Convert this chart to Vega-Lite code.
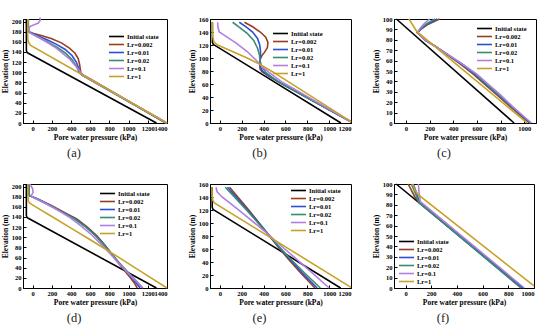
{
"$schema": "https://vega.github.io/schema/vega-lite/v6.json",
"padding": {"left": 0, "top": 13, "right": 5, "bottom": 5},
"config": {
 "font": "Liberation Serif",
 "view": {"stroke": "#000", "strokeWidth": 1},
 "axis": {"labelFont": "Liberation Serif", "labelFontWeight": "bold", "labelFontSize": 6.5, "labelColor": "#000", "labelOverlap": false, "format": "d", "titleFont": "Liberation Serif", "titleFontWeight": "bold", "titleFontSize": 7.5, "titleColor": "#000", "grid": false, "tickSize": -3, "tickColor": "#000", "domainColor": "#000", "labelPadding": 5, "titlePadding": 2},
 "legend": {"orient": "none", "title": null, "symbolType": "M-3,0H3", "symbolSize": 25, "symbolStrokeWidth": 2, "labelFont": "Liberation Serif", "labelFontSize": 6.5, "labelFontWeight": "bold", "labelColor": "#000", "rowPadding": 1, "labelOffset": 7, "padding": 0},
 "line": {"strokeWidth": 1.6, "clip": true},
 "title": {"font": "Liberation Serif", "fontSize": 12.5, "fontWeight": "normal", "color": "#222", "orient": "bottom", "offset": 6, "frame": "group", "dx": -21}
},
"datasets": {
 "a": [
  {"s":"i","p":-65,"e":205},{"s":"i","p":-65,"e":143},{"s":"i","p":-58,"e":139},{"s":"i","p":-45,"e":137.5},{"s":"i","p":1290,"e":0},
  {"s":"0.002","p":-45,"e":205},{"s":"0.002","p":-48,"e":190},{"s":"0.002","p":-40,"e":180},{"s":"0.002","p":0,"e":177},{"s":"0.002","p":100,"e":172},{"s":"0.002","p":200,"e":166},{"s":"0.002","p":300,"e":158},{"s":"0.002","p":380,"e":148},{"s":"0.002","p":440,"e":138},{"s":"0.002","p":475,"e":127},{"s":"0.002","p":490,"e":115},{"s":"0.002","p":497,"e":105},{"s":"0.002","p":505,"e":98},{"s":"0.002","p":540,"e":93},{"s":"0.002","p":620,"e":85},{"s":"0.002","p":1388,"e":0},
  {"s":"0.01","p":-45,"e":205},{"s":"0.01","p":-45,"e":185},{"s":"0.01","p":-35,"e":180},{"s":"0.01","p":50,"e":172},{"s":"0.01","p":150,"e":164},{"s":"0.01","p":250,"e":155},{"s":"0.01","p":340,"e":145},{"s":"0.01","p":410,"e":133},{"s":"0.01","p":455,"e":120},{"s":"0.01","p":480,"e":108},{"s":"0.01","p":495,"e":99},{"s":"0.01","p":520,"e":94},{"s":"0.01","p":1392,"e":0},
  {"s":"0.02","p":-45,"e":205},{"s":"0.02","p":-45,"e":185},{"s":"0.02","p":-35,"e":179},{"s":"0.02","p":50,"e":170},{"s":"0.02","p":150,"e":160},{"s":"0.02","p":250,"e":150},{"s":"0.02","p":340,"e":138},{"s":"0.02","p":410,"e":125},{"s":"0.02","p":455,"e":112},{"s":"0.02","p":485,"e":100},{"s":"0.02","p":510,"e":95},{"s":"0.02","p":1395,"e":0},
  {"s":"0.1","p":75,"e":208},{"s":"0.1","p":80,"e":203},{"s":"0.1","p":60,"e":197},{"s":"0.1","p":-30,"e":190},{"s":"0.1","p":-40,"e":183},{"s":"0.1","p":-20,"e":177},{"s":"0.1","p":100,"e":165},{"s":"0.1","p":250,"e":147},{"s":"0.1","p":380,"e":127},{"s":"0.1","p":460,"e":110},{"s":"0.1","p":505,"e":99},{"s":"0.1","p":525,"e":94},{"s":"0.1","p":1400,"e":0},
  {"s":"1","p":-50,"e":205},{"s":"1","p":-52,"e":185},{"s":"1","p":-50,"e":165},{"s":"1","p":-40,"e":158},{"s":"1","p":-20,"e":153},{"s":"1","p":1400,"e":0}
 ],
 "b": [
  {"s":"i","p":-68,"e":155},{"s":"i","p":-68,"e":124},{"s":"i","p":-60,"e":121},{"s":"i","p":-45,"e":119.5},{"s":"i","p":1108,"e":0},
  {"s":"0.002","p":225,"e":155},{"s":"0.002","p":300,"e":148},{"s":"0.002","p":370,"e":140},{"s":"0.002","p":420,"e":132},{"s":"0.002","p":440,"e":124},{"s":"0.002","p":435,"e":116},{"s":"0.002","p":410,"e":109},{"s":"0.002","p":385,"e":104},{"s":"0.002","p":370,"e":98},{"s":"0.002","p":365,"e":90},{"s":"0.002","p":368,"e":83},{"s":"0.002","p":385,"e":79},{"s":"0.002","p":450,"e":72},{"s":"0.002","p":560,"e":61},{"s":"0.002","p":1200,"e":2},
  {"s":"0.01","p":178,"e":155},{"s":"0.01","p":240,"e":148},{"s":"0.01","p":300,"e":140},{"s":"0.01","p":345,"e":130},{"s":"0.01","p":365,"e":120},{"s":"0.01","p":372,"e":110},{"s":"0.01","p":370,"e":100},{"s":"0.01","p":365,"e":93},{"s":"0.01","p":370,"e":86},{"s":"0.01","p":395,"e":79},{"s":"0.01","p":460,"e":71},{"s":"0.01","p":560,"e":61},{"s":"0.01","p":1200,"e":2},
  {"s":"0.02","p":117,"e":155},{"s":"0.02","p":180,"e":147},{"s":"0.02","p":250,"e":138},{"s":"0.02","p":310,"e":127},{"s":"0.02","p":345,"e":115},{"s":"0.02","p":362,"e":105},{"s":"0.02","p":368,"e":96},{"s":"0.02","p":380,"e":88},{"s":"0.02","p":420,"e":78},{"s":"0.02","p":480,"e":70},{"s":"0.02","p":560,"e":61},{"s":"0.02","p":1200,"e":2},
  {"s":"0.1","p":-20,"e":155},{"s":"0.1","p":-18,"e":148},{"s":"0.1","p":-5,"e":140},{"s":"0.1","p":60,"e":133},{"s":"0.1","p":150,"e":123},{"s":"0.1","p":250,"e":110},{"s":"0.1","p":330,"e":97},{"s":"0.1","p":380,"e":88},{"s":"0.1","p":450,"e":78},{"s":"0.1","p":560,"e":64},{"s":"0.1","p":1200,"e":2},
  {"s":"1","p":-70,"e":155},{"s":"1","p":-68,"e":135},{"s":"1","p":-55,"e":125},{"s":"1","p":-20,"e":120},{"s":"1","p":100,"e":111},{"s":"1","p":250,"e":100},{"s":"1","p":380,"e":89},{"s":"1","p":500,"e":77},{"s":"1","p":1200,"e":2}
 ],
 "c": [
  {"s":"i","p":-80,"e":100},{"s":"i","p":915,"e":0},
  {"s":"0.002","p":285,"e":100},{"s":"0.002","p":190,"e":95},{"s":"0.002","p":125,"e":90},{"s":"0.002","p":95,"e":87},{"s":"0.002","p":160,"e":80},{"s":"0.002","p":260,"e":73},{"s":"0.002","p":370,"e":64},{"s":"0.002","p":470,"e":56},{"s":"0.002","p":570,"e":47},{"s":"0.002","p":680,"e":36},{"s":"0.002","p":780,"e":26},{"s":"0.002","p":880,"e":16},{"s":"0.002","p":980,"e":6},{"s":"0.002","p":1045,"e":0},
  {"s":"0.01","p":265,"e":100},{"s":"0.01","p":180,"e":95},{"s":"0.01","p":125,"e":90},{"s":"0.01","p":100,"e":87},{"s":"0.01","p":160,"e":80},{"s":"0.01","p":260,"e":73},{"s":"0.01","p":375,"e":64},{"s":"0.01","p":480,"e":56},{"s":"0.01","p":580,"e":47},{"s":"0.01","p":690,"e":36},{"s":"0.01","p":790,"e":26},{"s":"0.01","p":890,"e":16},{"s":"0.01","p":990,"e":6},{"s":"0.01","p":1050,"e":0},
  {"s":"0.02","p":245,"e":100},{"s":"0.02","p":170,"e":95},{"s":"0.02","p":120,"e":90},{"s":"0.02","p":100,"e":87},{"s":"0.02","p":160,"e":80},{"s":"0.02","p":260,"e":73},{"s":"0.02","p":378,"e":64},{"s":"0.02","p":485,"e":56},{"s":"0.02","p":588,"e":47},{"s":"0.02","p":695,"e":36},{"s":"0.02","p":795,"e":26},{"s":"0.02","p":895,"e":16},{"s":"0.02","p":995,"e":6},{"s":"0.02","p":1055,"e":0},
  {"s":"0.1","p":200,"e":100},{"s":"0.1","p":150,"e":95},{"s":"0.1","p":120,"e":91},{"s":"0.1","p":100,"e":87},{"s":"0.1","p":160,"e":80},{"s":"0.1","p":260,"e":73},{"s":"0.1","p":380,"e":64},{"s":"0.1","p":500,"e":55},{"s":"0.1","p":600,"e":47},{"s":"0.1","p":700,"e":37},{"s":"0.1","p":800,"e":27},{"s":"0.1","p":900,"e":16},{"s":"0.1","p":1000,"e":6},{"s":"0.1","p":1062,"e":0},
  {"s":"1","p":25,"e":100},{"s":"1","p":60,"e":94},{"s":"1","p":92,"e":88},{"s":"1","p":1025,"e":0}
 ],
 "d": [
  {"s":"i","p":-65,"e":205},{"s":"i","p":-65,"e":143},{"s":"i","p":-58,"e":139},{"s":"i","p":-45,"e":137.5},{"s":"i","p":1290,"e":0},
  {"s":"0.002","p":-40,"e":205},{"s":"0.002","p":-40,"e":185},{"s":"0.002","p":-30,"e":182},{"s":"0.002","p":60,"e":175},{"s":"0.002","p":200,"e":162},{"s":"0.002","p":350,"e":147},{"s":"0.002","p":460,"e":136},{"s":"0.002","p":570,"e":120},{"s":"0.002","p":670,"e":103},{"s":"0.002","p":750,"e":85},{"s":"0.002","p":830,"e":66},{"s":"0.002","p":890,"e":50},{"s":"0.002","p":950,"e":36},{"s":"0.002","p":1010,"e":22},{"s":"0.002","p":1060,"e":10},{"s":"0.002","p":1090,"e":0},
  {"s":"0.01","p":-40,"e":205},{"s":"0.01","p":-40,"e":185},{"s":"0.01","p":-30,"e":182},{"s":"0.01","p":55,"e":175},{"s":"0.01","p":190,"e":162},{"s":"0.01","p":335,"e":147},{"s":"0.01","p":445,"e":136},{"s":"0.01","p":560,"e":120},{"s":"0.01","p":660,"e":103},{"s":"0.01","p":745,"e":85},{"s":"0.01","p":830,"e":66},{"s":"0.01","p":895,"e":50},{"s":"0.01","p":960,"e":36},{"s":"0.01","p":1025,"e":22},{"s":"0.01","p":1080,"e":10},{"s":"0.01","p":1120,"e":0},
  {"s":"0.02","p":-40,"e":205},{"s":"0.02","p":-40,"e":185},{"s":"0.02","p":-30,"e":182},{"s":"0.02","p":50,"e":175},{"s":"0.02","p":185,"e":162},{"s":"0.02","p":330,"e":147},{"s":"0.02","p":440,"e":136},{"s":"0.02","p":555,"e":120},{"s":"0.02","p":655,"e":103},{"s":"0.02","p":742,"e":85},{"s":"0.02","p":830,"e":66},{"s":"0.02","p":900,"e":50},{"s":"0.02","p":970,"e":36},{"s":"0.02","p":1040,"e":22},{"s":"0.02","p":1100,"e":10},{"s":"0.02","p":1145,"e":0},
  {"s":"0.1","p":-30,"e":205},{"s":"0.1","p":0,"e":196},{"s":"0.1","p":5,"e":188},{"s":"0.1","p":-15,"e":182},{"s":"0.1","p":0,"e":179},{"s":"0.1","p":120,"e":168},{"s":"0.1","p":250,"e":155},{"s":"0.1","p":380,"e":140},{"s":"0.1","p":500,"e":123},{"s":"0.1","p":620,"e":104},{"s":"0.1","p":720,"e":85},{"s":"0.1","p":820,"e":65},{"s":"0.1","p":900,"e":48},{"s":"0.1","p":980,"e":32},{"s":"0.1","p":1060,"e":17},{"s":"0.1","p":1150,"e":0},
  {"s":"1","p":-50,"e":205},{"s":"1","p":-50,"e":185},{"s":"1","p":-45,"e":172},{"s":"1","p":-30,"e":167},{"s":"1","p":50,"e":158},{"s":"1","p":200,"e":141},{"s":"1","p":400,"e":118},{"s":"1","p":600,"e":95},{"s":"1","p":800,"e":72},{"s":"1","p":1000,"e":48},{"s":"1","p":1200,"e":24},{"s":"1","p":1400,"e":0}
 ],
 "e": [
  {"s":"i","p":-70,"e":155},{"s":"i","p":-70,"e":124},{"s":"i","p":-62,"e":121},{"s":"i","p":-48,"e":119.5},{"s":"i","p":1105,"e":0},
  {"s":"0.002","p":89,"e":155},{"s":"0.002","p":180,"e":137},{"s":"0.002","p":270,"e":119},{"s":"0.002","p":360,"e":100},{"s":"0.002","p":441,"e":83},{"s":"0.002","p":530,"e":64},{"s":"0.002","p":624,"e":45},{"s":"0.002","p":740,"e":23},{"s":"0.002","p":870,"e":0},
  {"s":"0.01","p":70,"e":155},{"s":"0.01","p":165,"e":137},{"s":"0.01","p":260,"e":119},{"s":"0.01","p":355,"e":100},{"s":"0.01","p":440,"e":83},{"s":"0.01","p":535,"e":64},{"s":"0.01","p":635,"e":45},{"s":"0.01","p":755,"e":23},{"s":"0.01","p":890,"e":0},
  {"s":"0.02","p":50,"e":155},{"s":"0.02","p":150,"e":137},{"s":"0.02","p":250,"e":119},{"s":"0.02","p":350,"e":100},{"s":"0.02","p":440,"e":83},{"s":"0.02","p":540,"e":64},{"s":"0.02","p":645,"e":45},{"s":"0.02","p":775,"e":23},{"s":"0.02","p":920,"e":0},
  {"s":"0.1","p":-35,"e":155},{"s":"0.1","p":-25,"e":148},{"s":"0.1","p":20,"e":140},{"s":"0.1","p":120,"e":127},{"s":"0.1","p":230,"e":112},{"s":"0.1","p":340,"e":97},{"s":"0.1","p":440,"e":83},{"s":"0.1","p":560,"e":65},{"s":"0.1","p":690,"e":46},{"s":"0.1","p":840,"e":24},{"s":"0.1","p":1000,"e":0},
  {"s":"1","p":-72,"e":155},{"s":"1","p":-70,"e":140},{"s":"1","p":-62,"e":134},{"s":"1","p":-50,"e":131},{"s":"1","p":1200,"e":1}
 ],
 "f": [
  {"s":"i","p":-73,"e":100},{"s":"i","p":914,"e":0},
  {"s":"0.002","p":20,"e":100},{"s":"0.002","p":45,"e":94},{"s":"0.002","p":70,"e":88},{"s":"0.002","p":95,"e":84},{"s":"0.002","p":900,"e":0},
  {"s":"0.01","p":60,"e":100},{"s":"0.01","p":90,"e":90},{"s":"0.01","p":108,"e":82},{"s":"0.01","p":912,"e":0},
  {"s":"0.02","p":45,"e":100},{"s":"0.02","p":80,"e":90},{"s":"0.02","p":105,"e":82},{"s":"0.02","p":900,"e":0},
  {"s":"0.1","p":100,"e":100},{"s":"0.1","p":105,"e":92},{"s":"0.1","p":115,"e":83},{"s":"0.1","p":925,"e":0},
  {"s":"1","p":55,"e":100},{"s":"1","p":75,"e":94},{"s":"1","p":96,"e":90},{"s":"1","p":1000,"e":2}
 ]
},
"resolve": {"scale": {"color": "independent"}, "legend": {"color": "independent"}},
"bounds": "flush",
"columns": 3,
"spacing": {"row": 61, "column": 43},
"concat": [
  {"width": 144, "height": 104, "title": {"text": "(a)"}, "data": {"name": "a"}, "mark": "line",
   "encoding": {
    "x": {"field": "p", "type": "quantitative", "scale": {"domain": [-100, 1400], "nice": false, "zero": false}, "axis": {"values": [0,200,400,600,800,1000,1200,1400], "title": "Pore water pressure (kPa)"}},
    "y": {"field": "e", "type": "quantitative", "scale": {"domain": [0, 205], "nice": false}, "axis": {"values": [0,20,40,60,80,100,120,140,160,180,200], "title": "Elevation (m)"}},
    "color": {"field": "s", "type": "nominal", "scale": {"domain": ["i","0.002","0.01","0.02","0.1","1"], "range": ["#000000","#9c3d1e","#2b4fd8","#3a8c6e","#b07fe0","#c8a228"]}, "legend": {"legendX": 90, "legendY": 14, "labelExpr": "datum.value == 'i' ? 'Initial state' : 'Lr=' + datum.value"}},
    "order": {"field": "e", "sort": "descending"}}},
  {"width": 141, "height": 104, "title": {"text": "(b)"}, "data": {"name": "b"}, "mark": "line",
   "encoding": {
    "x": {"field": "p", "type": "quantitative", "scale": {"domain": [-90, 1200], "nice": false, "zero": false}, "axis": {"values": [0,200,400,600,800,1000,1200], "title": "Pore water pressure (kPa)"}},
    "y": {"field": "e", "type": "quantitative", "scale": {"domain": [0, 160], "nice": false}, "axis": {"values": [0,20,40,60,80,100,120,140,160], "title": "Elevation (m)"}},
    "color": {"field": "s", "type": "nominal", "scale": {"domain": ["i","0.002","0.01","0.02","0.1","1"], "range": ["#000000","#9c3d1e","#2b4fd8","#3a8c6e","#b07fe0","#c8a228"]}, "legend": {"legendX": 67, "legendY": 11, "labelExpr": "datum.value == 'i' ? 'Initial state' : 'Lr=' + datum.value"}},
    "order": {"field": "e", "sort": "descending"}}},
  {"width": 142, "height": 104, "title": {"text": "(c)"}, "data": {"name": "c"}, "mark": "line",
   "encoding": {
    "x": {"field": "p", "type": "quantitative", "scale": {"domain": [-100, 1100], "nice": false, "zero": false}, "axis": {"values": [0,200,400,600,800,1000], "title": "Pore water pressure (kPa)"}},
    "y": {"field": "e", "type": "quantitative", "scale": {"domain": [0, 100], "nice": false}, "axis": {"values": [0,10,20,30,40,50,60,70,80,90,100], "title": "Elevation (m)"}},
    "color": {"field": "s", "type": "nominal", "scale": {"domain": ["i","0.002","0.01","0.02","0.1","1"], "range": ["#000000","#9c3d1e","#2b4fd8","#3a8c6e","#b07fe0","#c8a228"]}, "legend": {"legendX": 87, "legendY": 6, "labelExpr": "datum.value == 'i' ? 'Initial state' : 'Lr=' + datum.value"}},
    "order": {"field": "e", "sort": "descending"}}},
  {"width": 144, "height": 104, "title": {"text": "(d)"}, "data": {"name": "d"}, "mark": "line",
   "encoding": {
    "x": {"field": "p", "type": "quantitative", "scale": {"domain": [-100, 1400], "nice": false, "zero": false}, "axis": {"values": [0,200,400,600,800,1000,1200,1400], "title": "Pore water pressure (kPa)"}},
    "y": {"field": "e", "type": "quantitative", "scale": {"domain": [0, 205], "nice": false}, "axis": {"values": [0,20,40,60,80,100,120,140,160,180,200], "title": "Elevation (m)"}},
    "color": {"field": "s", "type": "nominal", "scale": {"domain": ["i","0.002","0.01","0.02","0.1","1"], "range": ["#000000","#9c3d1e","#2b4fd8","#3a8c6e","#b07fe0","#c8a228"]}, "legend": {"legendX": 81, "legendY": 6, "labelExpr": "datum.value == 'i' ? 'Initial state' : 'Lr=' + datum.value"}},
    "order": {"field": "e", "sort": "descending"}}},
  {"width": 141, "height": 104, "title": {"text": "(e)"}, "data": {"name": "e"}, "mark": "line",
   "encoding": {
    "x": {"field": "p", "type": "quantitative", "scale": {"domain": [-90, 1200], "nice": false, "zero": false}, "axis": {"values": [0,200,400,600,800,1000,1200], "title": "Pore water pressure (kPa)"}},
    "y": {"field": "e", "type": "quantitative", "scale": {"domain": [0, 160], "nice": false}, "axis": {"values": [0,20,40,60,80,100,120,140,160], "title": "Elevation (m)"}},
    "color": {"field": "s", "type": "nominal", "scale": {"domain": ["i","0.002","0.01","0.02","0.1","1"], "range": ["#000000","#9c3d1e","#2b4fd8","#3a8c6e","#b07fe0","#c8a228"]}, "legend": {"legendX": 85, "legendY": 3, "labelExpr": "datum.value == 'i' ? 'Initial state' : 'Lr=' + datum.value"}},
    "order": {"field": "e", "sort": "descending"}}},
  {"width": 140, "height": 104, "title": {"text": "(f)"}, "data": {"name": "f"}, "mark": "line",
   "encoding": {
    "x": {"field": "p", "type": "quantitative", "scale": {"domain": [-90, 1000], "nice": false, "zero": false}, "axis": {"values": [0,200,400,600,800,1000], "title": "Pore water pressure (kPa)"}},
    "y": {"field": "e", "type": "quantitative", "scale": {"domain": [0, 100], "nice": false}, "axis": {"values": [0,10,20,30,40,50,60,70,80,90,100], "title": "Elevation (m)"}},
    "color": {"field": "s", "type": "nominal", "scale": {"domain": ["i","0.002","0.01","0.02","0.1","1"], "range": ["#000000","#9c3d1e","#2b4fd8","#3a8c6e","#b07fe0","#c8a228"]}, "legend": {"legendX": 9, "legendY": 54, "labelExpr": "datum.value == 'i' ? 'Initial state' : 'Lr=' + datum.value"}},
    "order": {"field": "e", "sort": "descending"}}}
]
}
